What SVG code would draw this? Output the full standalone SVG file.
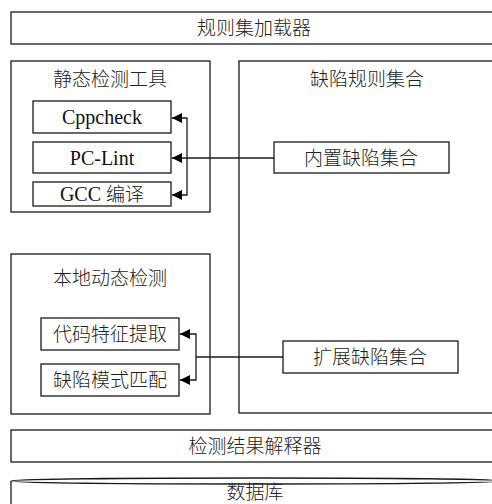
<svg xmlns="http://www.w3.org/2000/svg" width="492" height="504" viewBox="0 0 492 504">
<style>
  .box { fill: #fff; stroke: #1a1a1a; stroke-width: 1.3; }
  .cn { font-family: "Noto Sans CJK SC", "Noto Sans", sans-serif; font-size: 19px; font-weight: 300; fill: #222; text-anchor: middle; }
  .en { font-family: "Liberation Serif", "Times New Roman", serif; font-size: 20px; fill: #111; }
  .line { fill: none; stroke: #1a1a1a; stroke-width: 1.3; }
</style>
<defs>
  <marker id="arr" viewBox="0 0 10 10" refX="10" refY="5" markerWidth="10" markerHeight="10" markerUnits="userSpaceOnUse" orient="auto" preserveAspectRatio="none">
    <path d="M0,0 L10,5 L0,10 Z" fill="#000"/>
  </marker>
</defs>
<rect width="492" height="504" fill="#fff"/>

<g id="loader">
  <rect class="box" x="11" y="12" width="492" height="32"/>
  <text class="cn" x="254" y="35">规则集加载器</text>
</g>

<g id="static-tools">
  <rect class="box" x="11" y="61" width="199" height="151"/>
  <text class="cn" x="110" y="86">静态检测工具</text>
</g>
<g id="cppcheck">
  <rect class="box" x="33" y="101" width="138" height="32"/>
  <text class="en" x="102" y="124" text-anchor="middle">Cppcheck</text>
</g>
<g id="pclint">
  <rect class="box" x="33" y="142" width="138" height="31"/>
  <text class="en" x="102" y="165" text-anchor="middle">PC-Lint</text>
</g>
<g id="gcc">
  <rect class="box" x="33" y="182" width="138" height="24"/>
  <text x="102" y="201" text-anchor="middle"><tspan class="en">GCC </tspan><tspan style="font-family:'Noto Sans CJK SC',sans-serif;font-size:19px;font-weight:300;fill:#222">编译</tspan></text>
</g>

<g id="defect-rules">
  <rect class="box" x="239" y="61" width="262" height="352"/>
  <text class="cn" x="367" y="86">缺陷规则集合</text>
</g>
<g id="builtin">
  <rect class="box" x="274" y="142" width="175" height="31"/>
  <text class="cn" x="361" y="165">内置缺陷集合</text>
</g>
<g id="extended">
  <rect class="box" x="283" y="341" width="175" height="32"/>
  <text class="cn" x="370" y="364">扩展缺陷集合</text>
</g>

<g id="dynamic">
  <rect class="box" x="11" y="254" width="199" height="160"/>
  <text class="cn" x="110" y="285">本地动态检测</text>
</g>
<g id="feature">
  <rect class="box" x="41" y="318" width="138" height="32"/>
  <text class="cn" x="110" y="341">代码特征提取</text>
</g>
<g id="match">
  <rect class="box" x="41" y="364" width="138" height="32"/>
  <text class="cn" x="110" y="387">缺陷模式匹配</text>
</g>

<g id="interpreter">
  <rect class="box" x="11" y="430" width="492" height="32"/>
  <text class="cn" x="255" y="453">检测结果解释器</text>
</g>

<g id="database">
  <path class="box" d="M11,510 L11,481 A245,3 0 0 1 501,481 L501,510 Z"/>
  <path class="line" d="M11,481 A245,3 0 0 0 501,481"/>
  <text class="cn" x="255" y="499">数据库</text>
</g>

<g id="connectors">
  <path class="line" d="M274,158 L172,158" marker-end="url(#arr)"/>
  <path class="line" d="M187,158 L187,118 L172,118" marker-end="url(#arr)"/>
  <path class="line" d="M187,158 L187,195 L172,195" marker-end="url(#arr)"/>
  <path class="line" d="M283,357 L196,357"/>
  <path class="line" d="M196,357 L196,334 L180,334" marker-end="url(#arr)"/>
  <path class="line" d="M196,357 L196,380 L180,380" marker-end="url(#arr)"/>
</g>
</svg>
